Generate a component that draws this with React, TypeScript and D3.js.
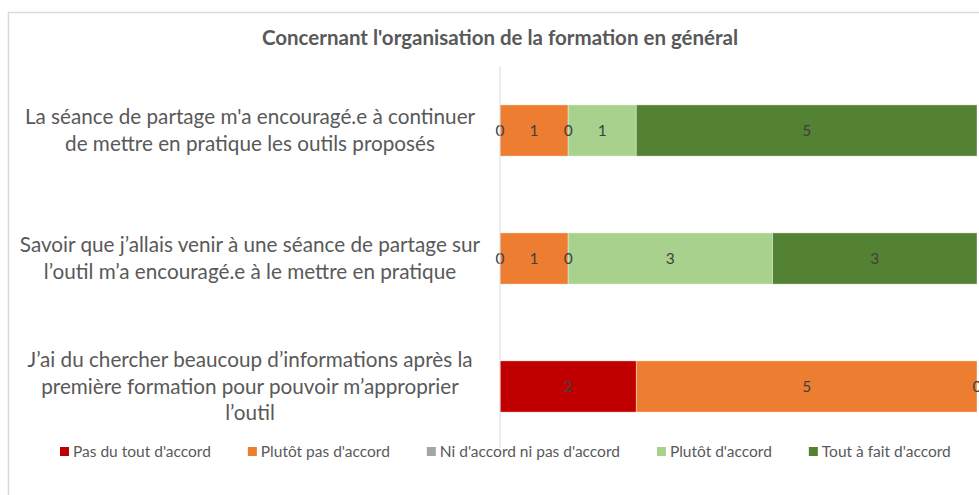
import { useEffect, useRef } from "react";
import * as d3 from "d3";

const title = "Concernant l'organisation de la formation en général";

const categories = ["q1", "q2", "q3"];
const categoryLines = [
  ["La séance de partage m'a encouragé.e à continuer", "de mettre en pratique les outils proposés"],
  ["Savoir que j’allais venir à une séance de partage sur", "l’outil m’a encouragé.e à le mettre en pratique"],
  ["J’ai du chercher beaucoup d’informations après la", "première formation pour pouvoir m’approprier", "l’outil"],
];

const seriesNames = [
  "Pas du tout d'accord",
  "Plutôt pas d'accord",
  "Ni d'accord ni pas d'accord",
  "Plutôt d'accord",
  "Tout à fait d'accord",
];
const pasDuTout = [0, 0, 2];
const plutotPas = [1, 1, 5];
const niNi = [0, 0, null];
const plutot = [1, 3, null];
const toutAFait = [5, 3, 0];
const seriesValues = [pasDuTout, plutotPas, niNi, plutot, toutAFait];
const colors = ["#C00000", "#ED7D31", "#A5A5A5", "#A9D18E", "#548235"];

const W = 979;
const H = 495;
const font = "Lato, 'Open Sans', sans-serif";

export default function App() {
  const ref = useRef<SVGSVGElement>(null);

  useEffect(() => {
    const svg = d3.select(ref.current);
    svg.selectAll("*").remove();

    // frame (right and bottom edges are cropped in the original)
    svg
      .append("rect")
      .attr("x", 8.5)
      .attr("y", 12.5)
      .attr("width", W + 10)
      .attr("height", H + 10)
      .attr("fill", "#fff")
      .attr("stroke", "#d9d9d9")
      .attr("stroke-width", 1.5);

    svg
      .append("text")
      .attr("x", 500)
      .attr("y", 38)
      .attr("dy", "0.35em")
      .attr("text-anchor", "middle")
      .attr("font-family", font)
      .attr("font-weight", "bold")
      .attr("font-size", 20.5)
      .attr("fill", "#595959")
      .text(title);

    const x = d3.scaleLinear().domain([0, 7]).range([500, 977]);
    const y = d3
      .scaleBand()
      .domain(categories)
      .range([66.5, 450.5])
      .paddingInner(0.6)
      .paddingOuter(0.3);

    // stacked segments
    const rows = categories.map((c, i) => {
      let acc = 0;
      return seriesValues.map((vals, s) => {
        const v = vals[i];
        const x0 = acc;
        acc += v ?? 0;
        return { c, s, v, x0, x1: acc };
      });
    });

    const segs = rows.flat();
    svg
      .append("g")
      .selectAll("rect")
      .data(segs.filter((d) => d.v))
      .join("rect")
      .attr("x", (d) => x(d.x0))
      .attr("y", (d) => y(d.c)!)
      .attr("width", (d) => x(d.x1) - x(d.x0))
      .attr("height", y.bandwidth())
      .attr("fill", (d) => colors[d.s])
      .attr("stroke", "#fff")
      .attr("stroke-opacity", 0.5)
      .attr("stroke-width", 0.75);

    svg
      .append("g")
      .selectAll("text")
      .data(segs.filter((d) => d.v !== null))
      .join("text")
      .attr("x", (d) => (x(d.x0) + x(d.x1)) / 2)
      .attr("y", (d) => y(d.c)! + y.bandwidth() / 2)
      .attr("dy", "0.35em")
      .attr("text-anchor", "middle")
      .attr("font-family", font)
      .attr("font-size", 15.5)
      .attr("fill", "#404040")
      .text((d) => String(d.v));

    // axis line
    svg
      .append("line")
      .attr("x1", 500)
      .attr("x2", 500)
      .attr("y1", 66.5)
      .attr("y2", 448)
      .attr("stroke", "#d9d9d9")
      .attr("stroke-width", 1);

    // category labels
    const lh = 26.5;
    categories.forEach((c, i) => {
      const lines = categoryLines[i];
      const cy = y(c)! + y.bandwidth() / 2;
      const t = svg
        .append("text")
        .attr("text-anchor", "middle")
        .attr("font-family", font)
        .attr("font-size", 20.7)
        .attr("fill", "#595959");
      lines.forEach((l, k) => {
        t.append("tspan")
          .attr("x", 250)
          .attr("y", cy + (k - (lines.length - 1) / 2) * lh)
          .attr("dy", "0.35em")
          .text(l);
      });
    });

    // legend
    const lg = svg.append("g");
    let lx = 60;
    seriesNames.forEach((n, s) => {
      lg.append("rect")
        .attr("x", lx)
        .attr("y", 447)
        .attr("width", 9)
        .attr("height", 9)
        .attr("fill", colors[s]);
      const t = lg
        .append("text")
        .attr("x", lx + 13)
        .attr("y", 451.5)
        .attr("dy", "0.35em")
        .attr("font-family", font)
        .attr("font-size", 15.5)
        .attr("fill", "#595959")
        .text(n);
      const w = (t.node() as SVGTextElement).getComputedTextLength();
      lx += 13 + w + 37;
    });
  }, []);

  return (
    <div style={{ position: "absolute", left: 0, top: 0 }}>
      <svg ref={ref} width={W} height={H} style={{ display: "block" }} />
    </div>
  );
}
